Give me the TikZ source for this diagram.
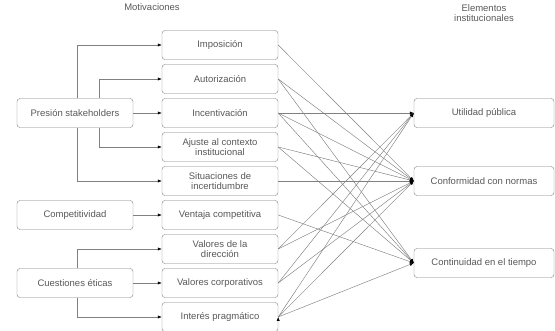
\documentclass[tikz,border=0pt]{standalone}
\usepackage{fontspec}
\setmainfont{Liberation Sans}
\usetikzlibrary{arrows.meta,positioning}

\begin{document}
\begin{tikzpicture}[x=1pt,y=1pt,->,>={Latex[black,length=4pt,width=3.2pt]},node distance=34pt,
                    font=\fontsize{9.5}{10.5}\selectfont, text=black!65,
                    caja/.style={rectangle, rounded corners=3pt, draw=black!50, fill=white, thin,
                                 minimum width=116pt, minimum height=29pt, align=center, inner sep=1pt},
                    linea/.style={draw=black!50, line width=0.45pt}]
    \useasboundingbox (0,0) rectangle (555,331);

    \node (tmot) at (152,324) {Motivaciones};
    \node[align=center] (tele) at (484,318) {Elementos\\institucionales};

    \node[caja]   (imp)  at (220,286)      {Imposición};
    \node[caja]   (aut)  [below of=imp]    {Autorización};
    \node[caja]   (inc)  [below of=aut]    {Incentivación};
    \node[caja]   (aju)  [below of=inc]    {Ajuste al contexto\\institucional};
    \node[caja]   (sit)  [below of=aju]    {Situaciones de\\incertidumbre};
    \node[caja]   (ven)  [below of=sit]    {Ventaja competitiva};
    \node[caja]   (vdir) [below of=ven]    {Valores de la\\dirección};
    \node[caja]   (vcor) [below of=vdir]   {Valores corporativos};
    \node[caja]   (int)  [below of=vcor]   {Interés pragmático};

    \node[caja, node distance=145pt] (pres) [left of=inc]  {Presión stakeholders};
    \node[caja, node distance=145pt] (comp) [left of=ven]  {Competitividad};
    \node[caja, node distance=145pt] (cue)  [left of=vcor] {Cuestiones éticas};

    \node[caja, minimum width=140pt, node distance=264pt] (util) [right of=inc]  {Utilidad pública};
    \node[caja, minimum width=140pt, node distance=264pt] (conf) [right of=sit]  {Conformidad con normas};
    \node[caja, minimum width=140pt, node distance=82pt]  (cont) [below of=conf] {Continuidad en el tiempo};

    % motivaciones
    \draw[linea] ([xshift=2pt]pres.north) |- (imp.west);
    \draw[linea] ([xshift=24pt]pres.north) |- (aut.west);
    \draw[linea] (pres.east) -- (inc.west);
    \draw[linea] ([xshift=24pt]pres.south) |- (aju.west);
    \draw[linea] ([xshift=2pt]pres.south) |- (sit.west);
    \draw[linea] (comp.east) -- (ven.west);
    \draw[linea] ([xshift=2pt]cue.north) |- (vdir.west);
    \draw[linea] (cue.east) -- (vcor.west);
    \draw[linea] ([xshift=2pt]cue.south) |- (int.west);

    % elementos institucionales
    \path[linea] (imp.east)  edge (conf.west)
                 (aut.east)  edge (conf.west)
                             edge (cont.west)
                 (inc.east)  edge (util.west)
                             edge (conf.west)
                             edge (cont.west)
                 (aju.east)  edge (conf.west)
                             edge (cont.west)
                 (sit.east)  edge (conf.west)
                 (ven.east)  edge (cont.west)
                 (vdir.east) edge (util.west)
                             edge (conf.west)
                 (vcor.east) edge (util.west)
                             edge (conf.west)
                 (int.east)  edge (util.west)
                             edge (conf.west)
                             edge (cont.west);
\end{tikzpicture}
\end{document}
